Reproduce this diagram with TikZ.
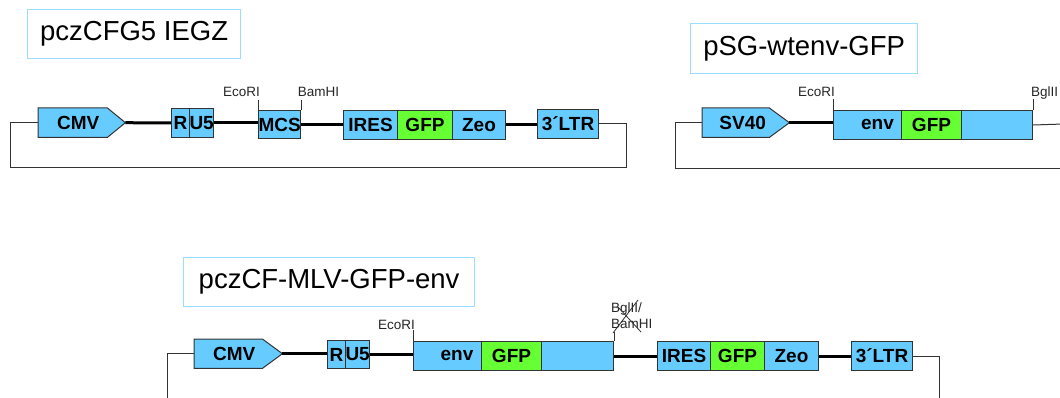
\documentclass[tikz,border=0pt]{standalone}
\usepackage{fontspec}
\setmainfont{Liberation Sans}
\usetikzlibrary{backgrounds}
\definecolor{genblue}{HTML}{66CCFF}
\definecolor{gengreen}{HTML}{66FF33}
\definecolor{titleblue}{HTML}{99DDFF}
\definecolor{edgegray}{HTML}{333333}
\tikzset{
  box/.style={draw=edgegray, line width=1pt, fill=genblue, inner sep=0pt, anchor=north west,
    font=\bfseries\fontsize{19}{19}\selectfont},
  gbox/.style={box, fill=gengreen},
  prom/.style={inner sep=0pt, anchor=north west, font=\bfseries\fontsize{19}{19}\selectfont},
  promshape/.style={fill=genblue, draw=edgegray, line width=1pt},
  ttl/.style={draw=titleblue, line width=1.2pt, inner sep=0pt, anchor=north west,
    font=\fontsize{27.5}{27.5}\selectfont},
  site/.style={font=\fontsize{13.5}{13.5}\selectfont, inner sep=0pt, text=black!85},
  bb/.style={line width=3pt, black},
  frameline/.style={line width=1pt, edgegray},
  tickline/.style={line width=0.8pt, edgegray},
  lbl/.style={inner sep=0pt, font=\bfseries\fontsize{19}{19}\selectfont},
}
\begin{document}
\begin{tikzpicture}[x=1pt,y=-1pt]
\useasboundingbox (0,0) rectangle (1060,398);

% ================= pczCFG5 IEGZ =================
\node[ttl, minimum width=213pt, minimum height=49pt] (tA) at (27,9) {pczCFG5 IEGZ};
\node[prom, minimum width=87pt, minimum height=29pt] (cmvA) at (38,108) {\hspace*{-7pt}CMV};
\node[box, minimum width=18pt, minimum height=29pt] (rA) at (171,108) {R};
\node[box, minimum width=24pt, minimum height=29pt] (u5A) at (189,108) {U5};
\node[box, minimum width=42pt, minimum height=28pt] (mcsA) at (258,110) {MCS};
\node[box, minimum width=54pt, minimum height=29pt] (iresA) at (343,110) {IRES};
\node[gbox, minimum width=55pt, minimum height=29pt] (gfpA) at (397,110) {GFP};
\node[box, minimum width=53pt, minimum height=29pt] (zeoA) at (452,110) {Zeo};
\node[box, minimum width=61pt, minimum height=29pt] (ltrA) at (537,109) {3´LTR};
\begin{pgfonlayer}{background}
\draw[promshape] (cmvA.north west) -- ([xshift=-18pt]cmvA.north east) -- (cmvA.east)
  -- ([xshift=-18pt]cmvA.south east) -- (cmvA.south west) -- cycle;
\end{pgfonlayer}
\draw[bb] (cmvA.east) -- (rA.west);
\draw[bb] (u5A.east) -- (u5A.east -| mcsA.west);
\draw[bb] (mcsA.east) -- (mcsA.east -| iresA.west);
\draw[bb] (zeoA.east) -- (zeoA.east -| ltrA.west);
\coordinate (fA1) at (10,168);
\coordinate (fA2) at (626,168);
\draw[frameline] (cmvA.west) -| (fA1) -- (fA2) |- (ltrA.east);
\node[site, anchor=base] (ecoA) at (241.5,97) {EcoRI};
\node[site, anchor=base] (bamA) at (318.5,97) {BamHI};
\draw[tickline] (mcsA.north west) -- ++(0,-10);
\draw[tickline] (mcsA.north east) -- ++(0,-10);

% ================= pSG-wtenv-GFP =================
\node[ttl, minimum width=227pt, minimum height=50pt] (tB) at (690,23) {pSG-wtenv-GFP};
\node[prom, minimum width=87pt, minimum height=29pt] (sv40B) at (702,108) {\hspace*{-6pt}SV40};
\begin{pgfonlayer}{background}
\draw[promshape] (sv40B.north west) -- ([xshift=-20pt]sv40B.north east) -- (sv40B.east)
  -- ([xshift=-20pt]sv40B.south east) -- (sv40B.south west) -- cycle;
\end{pgfonlayer}
\node[box, minimum width=199pt, minimum height=29pt] (envB) at (833,110) {};
\node[gbox, minimum width=60pt, minimum height=29pt] (gfpB) at (901,110) {GFP};
\node[lbl] (envtB) at (877.5,124.5) {env};
\draw[bb] (sv40B.east) -- (sv40B.east -| envB.west);
\coordinate (fB1) at (675,169);
\coordinate (fB2) at (1064,169);
\coordinate (fB3) at (1064,124);
\draw[frameline] (sv40B.west) -| (fB1) -- (fB2);
\draw[frameline] (envB.east) -- (fB3);
\node[site, anchor=base] (ecoB) at (816.5,97) {EcoRI};
\node[site, anchor=base west] (bglB) at (1031,97) {BglII};
\draw[tickline] (envB.north west) -- ++(0,-11);
\draw[tickline] (envB.north east) -- ++(0,-11);

% ================= pczCF-MLV-GFP-env =================
\node[ttl, minimum width=291pt, minimum height=49pt] (tC) at (183,257) {pczCF-MLV-GFP-env};
\node[prom, minimum width=88pt, minimum height=29pt] (cmvC) at (194,339) {\hspace*{-8pt}CMV};
\begin{pgfonlayer}{background}
\draw[promshape] (cmvC.north west) -- ([xshift=-20pt]cmvC.north east) -- (cmvC.east)
  -- ([xshift=-20pt]cmvC.south east) -- (cmvC.south west) -- cycle;
\end{pgfonlayer}
\node[box, minimum width=18pt, minimum height=28pt] (rC) at (327,340) {R};
\node[box, minimum width=24pt, minimum height=28pt] (u5C) at (345,340) {U5};
\node[box, minimum width=200pt, minimum height=29pt] (envC) at (413,341) {};
\node[gbox, minimum width=60pt, minimum height=29pt] (gfpC) at (481,341) {GFP};
\node[lbl] (envtC) at (457,355.5) {env};
\node[box, minimum width=53pt, minimum height=29pt] (iresC) at (657,341) {IRES};
\node[gbox, minimum width=54pt, minimum height=29pt] (gfpC2) at (710,341) {GFP};
\node[box, minimum width=54pt, minimum height=29pt] (zeoC) at (764,341) {Zeo};
\node[box, minimum width=61pt, minimum height=29pt] (ltrC) at (851,341) {3´LTR};
\draw[bb] (cmvC.east) -- (cmvC.east -| rC.west);
\draw[bb] (u5C.east) -- (u5C.east -| envC.west);
\draw[bb] (envC.east) -- (envC.east -| iresC.west);
\draw[bb] (zeoC.east) -- (zeoC.east -| ltrC.west);
\coordinate (fC1) at (167,402);
\coordinate (fC2) at (939,402);
\draw[frameline] (cmvC.west) -| (fC1);
\draw[frameline] (ltrC.east) -| (fC2);
\node[site, anchor=base] (ecoC) at (396.5,329) {EcoRI};
\node[site, anchor=base west] (bglC) at (611,312) {BglII/};
\node[site, anchor=base west] (bamC) at (611,328) {BamHI};
\draw[tickline] (envC.north west) -- ++(0,-11);
\draw[tickline] (envC.north east) -- ++(0,-9);
\draw[tickline] (613,333) -- (638,300);
\draw[tickline] (618,307) -- (641,332);
\end{tikzpicture}
\end{document}
